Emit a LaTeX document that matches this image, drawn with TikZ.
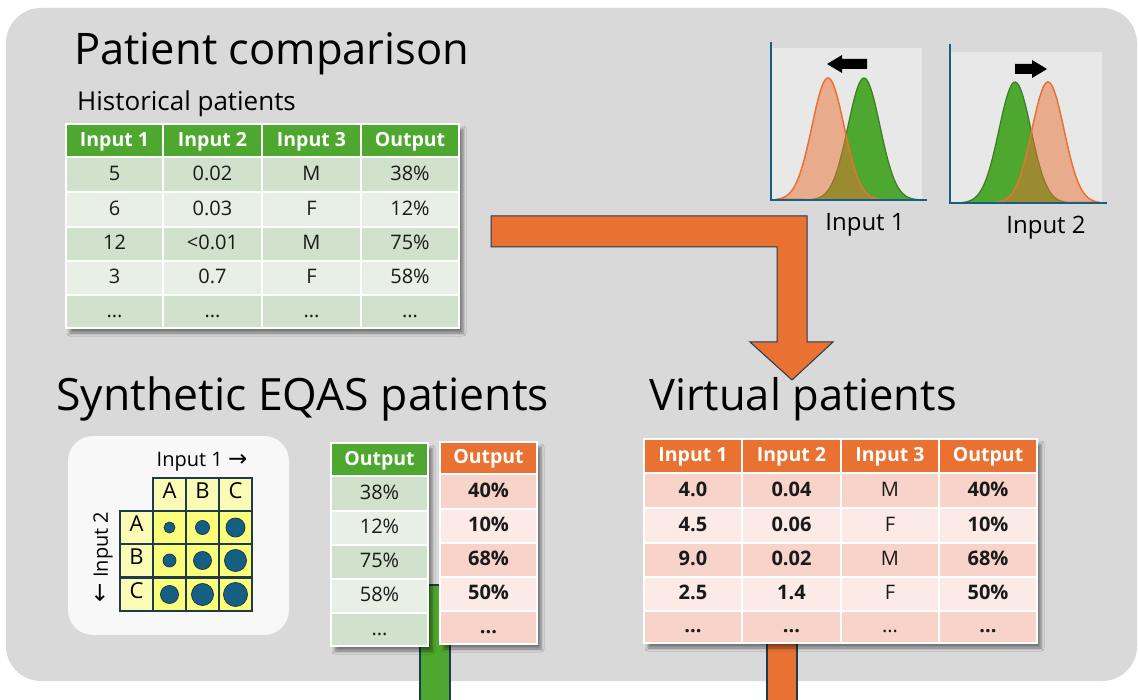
\documentclass[tikz,border=0pt]{standalone}
\usepackage{fontspec}
\setmainfont{Open Sans}
\newfontfamily\symfont{DejaVu Sans}
\usetikzlibrary{shadows.blur}
\definecolor{bg}{HTML}{D9D9D9}
\definecolor{ogreen}{HTML}{4EA72E}
\definecolor{dgreen}{HTML}{3A7D22}
\definecolor{oorange}{HTML}{E97132}
\definecolor{gdark}{HTML}{D0E2CB}
\definecolor{glight}{HTML}{E8F0E6}
\definecolor{odark}{HTML}{F7D3C9}
\definecolor{olight}{HTML}{FBEAE6}
\definecolor{navy}{HTML}{1F3A4D}
\definecolor{axisblue}{HTML}{156082}
\definecolor{plotbg}{HTML}{E8E8E8}
\definecolor{ycell}{HTML}{FDFD7C}
\definecolor{yhead}{HTML}{FBFBB5}
\definecolor{boxwhite}{HTML}{F8F8F8}
\definecolor{txt}{HTML}{1A1A1A}

\newcommand\trow[9]{%
 \fill[#4] (\cA,#2) rectangle (\cE,#3);
 \draw[white, line width=1.5pt] (\cA,#2) rectangle (\cE,#3) (\cB,#2) -- (\cB,#3) (\cC,#2) -- (\cC,#3) (\cD,#2) -- (\cD,#3);
 \node[#5] (#1a) at ({(\cA+\cB)/2},{(#2+#3)/2}) {#6};
 \node[#5] (#1b) at ({(\cB+\cC)/2},{(#2+#3)/2}) {#7};
 \node[#5] (#1c) at ({(\cC+\cD)/2},{(#2+#3)/2}) {#8};
 \node[#5] (#1d) at ({(\cD+\cE)/2},{(#2+#3)/2}) {#9};
}
\newcommand\orow[8]{%
 \fill[#6] (#2,#4) rectangle (#3,#5);
 \draw[white, line width=1.5pt] (#2,#4) rectangle (#3,#5);
 \node[#7] (#1) at ({(#2+#3)/2},{(#4+#5)/2}) {#8};
}
\newcommand\gcell[5]{% name, x1, y1, fill, text
 \node[gridcell, fill=#4] (#1) at ({#2+16.5},{#3+16.5}) {#5};
}

\begin{document}
\begin{tikzpicture}[x=1pt,y=-1pt,
  ctext/.style={inner sep=0pt, yshift=-2pt, text height=0.72em, text depth=0pt, font=\fontsize{20}{24}\selectfont, text=txt},
  htext/.style={ctext, font=\fontsize{19.5}{23}\selectfont\bfseries, text=white},
  title/.style={anchor=base west, inner sep=0pt, font=\fontsize{43.5}{52}\selectfont, text=black},
  label/.style={inner sep=0pt, font=\fontsize{24}{28}\selectfont, text=black},
  shadowed/.style={blur shadow={shadow xshift=4pt, shadow yshift=-5pt, shadow blur radius=3pt, shadow opacity=45}},
  gridcell/.style={draw=navy, line width=1.2pt, minimum width=33pt, minimum height=33pt, inner sep=0pt, text height=0.72em, text depth=0pt, font=\fontsize{22}{26}\selectfont},
  dot/.style={fill=axisblue, draw=navy, line width=0.8pt},
  barstyle/.style={draw=navy, line width=1.2pt},
  blackarrow/.style={fill=black},
]
\useasboundingbox (0,0) rectangle (1138,700);
\fill[white] (0,0) rectangle (1138,700);
\fill[bg, rounded corners=35pt] (6,8) rectangle (1137,681);

% ---------- bars below tables ----------
\filldraw[ogreen, barstyle] (420,585) rectangle (450,702);
\filldraw[oorange, barstyle] (767,640) rectangle (797,702);

% ---------- titles ----------
\node[title] (t1) at (74,65) {Patient comparison};
\node[title, font=\fontsize{26}{30}\selectfont] (t1b) at (77,111) {Historical patients};
\node[title, font=\fontsize{44.5}{52}\selectfont] (t2) at (56,411) {Synthetic EQAS patients};
\node[title] (t3) at (649,411) {Virtual patients};

% ---------- historical table ----------
\def\cA{66}\def\cB{163}\def\cC{262}\def\cD{361}\def\cE{459}
\path[shadowed, fill=white] (66,124) rectangle (459,328);
\trow{hh}{124}{157}{ogreen}{htext}{Input 1}{Input 2}{Input 3}{Output}
\trow{ha}{157}{192}{gdark}{ctext}{5}{0.02}{M}{38\%}
\trow{hb}{192}{227}{glight}{ctext}{6}{0.03}{F}{12\%}
\trow{hc}{227}{261}{gdark}{ctext}{12}{<0.01}{M}{75\%}
\trow{hd}{261}{295}{glight}{ctext}{3}{0.7}{F}{58\%}
\trow{he}{295}{328}{gdark}{ctext}{...}{...}{...}{...}

% ---------- charts ----------
\fill[plotbg] (771,48) rectangle (922,200);
\filldraw[fill=ogreen, draw=dgreen, line width=1.2pt] plot[domain=776:918, samples=90] (\x,{200-122*exp(-((\x-864)^2)/512)}) -- cycle;
\filldraw[fill=oorange, fill opacity=0.5, draw=oorange, line width=1.5pt] plot[domain=776:918, samples=90] (\x,{200-122*exp(-((\x-828)^2)/512)}) -- cycle;
\draw[axisblue, line width=2pt] (771,42) -- (771,200) -- (927,200);
\fill[blackarrow] (827,64) -- (842,55) -- (842,59) -- (867,59) -- (867,69) -- (842,69) -- (842,73) -- cycle;
\node[label] (l1) at (865,225) {Input 1};

\fill[plotbg] (950,52) rectangle (1102,203);
\filldraw[fill=ogreen, draw=dgreen, line width=1.2pt] plot[domain=955:1100, samples=90] (\x,{203-121*exp(-((\x-1015)^2)/512)}) -- cycle;
\filldraw[fill=oorange, fill opacity=0.5, draw=oorange, line width=1.5pt] plot[domain=955:1100, samples=90] (\x,{203-121*exp(-((\x-1048)^2)/512)}) -- cycle;
\draw[axisblue, line width=2pt] (950,44) -- (950,203) -- (1107,203);
\fill[blackarrow] (1047,69) -- (1032,60) -- (1032,64) -- (1015,64) -- (1015,74) -- (1032,74) -- (1032,78) -- cycle;
\node[label] (l2) at (1046,228) {Input 2};

% ---------- big orange arrow ----------
\filldraw[oorange, draw=navy, line width=1pt] (491,216) -- (807,216) -- (807,342) -- (833,342) -- (792,380) -- (750,342) -- (777,342) -- (777,247) -- (491,247) -- cycle;

% ---------- EQAS grid ----------
\fill[boxwhite, rounded corners=25pt] (68,436) rectangle (289,635);
\node[inner sep=0pt, font=\fontsize{20}{24}\selectfont] (in1) at (202,462) {Input 1 {\symfont\fontsize{23}{24}\selectfont →}};
\node[inner sep=0pt, font=\fontsize{20}{24}\selectfont, rotate=90] (in2) at (103,557) {{\symfont\fontsize{23}{24}\selectfont ←} Input 2};
\gcell{hA}{153}{478}{yhead}{A}
\gcell{hB}{186}{478}{yhead}{B}
\gcell{hC}{219}{478}{yhead}{C}
\gcell{rA}{120}{511}{yhead}{A}
\gcell{rB}{120}{544}{yhead}{B}
\gcell{rC}{120}{578}{yhead}{C}
\gcell{aa}{153}{511}{ycell}{}
\gcell{ab}{186}{511}{ycell}{}
\gcell{ac}{219}{511}{ycell}{}
\gcell{ba}{153}{544}{ycell}{}
\gcell{bb}{186}{544}{ycell}{}
\gcell{bc}{219}{544}{ycell}{}
\gcell{ca}{153}{578}{ycell}{}
\gcell{cb}{186}{578}{ycell}{}
\gcell{cc}{219}{578}{ycell}{}
\filldraw[dot] (aa) circle (5.5);
\filldraw[dot] (ab) circle (7);
\filldraw[dot] (ac) circle (9.5);
\filldraw[dot] (ba) circle (6.5);
\filldraw[dot] (bb) circle (9);
\filldraw[dot] (bc) circle (11);
\filldraw[dot] (ca) circle (9);
\filldraw[dot] (cb) circle (11);
\filldraw[dot] (cc) circle (12);

% ---------- green output column ----------
\path[shadowed, fill=white] (331,443) rectangle (428,646);
\orow{go0}{331}{428}{443}{476}{ogreen}{htext}{Output}
\orow{go1}{331}{428}{476}{511}{gdark}{ctext}{38\%}
\orow{go2}{331}{428}{511}{545}{glight}{ctext}{12\%}
\orow{go3}{331}{428}{545}{579}{gdark}{ctext}{75\%}
\orow{go4}{331}{428}{579}{613}{glight}{ctext}{58\%}
\orow{go5}{331}{428}{613}{646}{gdark}{ctext}{...}

% ---------- orange output column ----------
\path[shadowed, fill=white] (440,442) rectangle (537,644);
\orow{oo0}{440}{537}{442}{474}{oorange}{htext}{Output}
\orow{oo1}{440}{537}{474}{509}{odark}{ctext}{\bfseries 40\%}
\orow{oo2}{440}{537}{509}{543}{olight}{ctext}{\bfseries 10\%}
\orow{oo3}{440}{537}{543}{577}{odark}{ctext}{\bfseries 68\%}
\orow{oo4}{440}{537}{577}{611}{olight}{ctext}{\bfseries 50\%}
\orow{oo5}{440}{537}{611}{644}{odark}{ctext}{\bfseries ...}

% ---------- virtual patients table ----------
\def\cA{644}\def\cB{742}\def\cC{841}\def\cD{939}\def\cE{1037}
\path[shadowed, fill=white] (644,439) rectangle (1037,643);
\trow{vh}{439}{473}{oorange}{htext}{Input 1}{Input 2}{Input 3}{Output}
\trow{va}{473}{508}{odark}{ctext}{\bfseries 4.0}{\bfseries 0.04}{M}{\bfseries 40\%}
\trow{vb}{508}{543}{olight}{ctext}{\bfseries 4.5}{\bfseries 0.06}{F}{\bfseries 10\%}
\trow{vc}{543}{577}{odark}{ctext}{\bfseries 9.0}{\bfseries 0.02}{M}{\bfseries 68\%}
\trow{vd}{577}{611}{olight}{ctext}{\bfseries 2.5}{\bfseries 1.4}{F}{\bfseries 50\%}
\trow{ve}{611}{643}{odark}{ctext}{\bfseries ...}{\bfseries ...}{...}{\bfseries ...}
\end{tikzpicture}
\end{document}
